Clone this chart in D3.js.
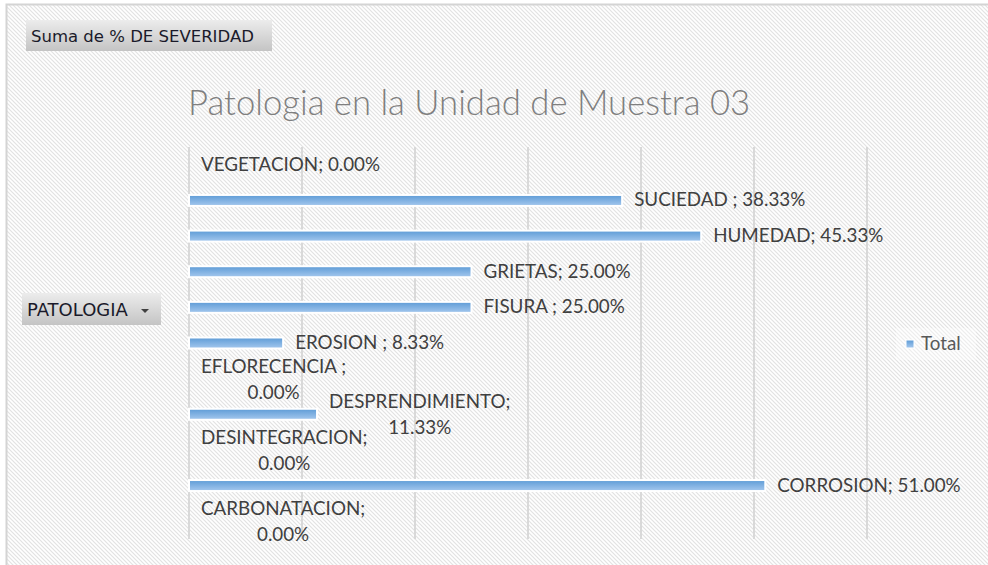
<!DOCTYPE html>
<html>
<head>
<meta charset="utf-8">
<script src="https://cdn.jsdelivr.net/npm/d3@7"></script>
<style>
  body { margin: 0; background: #fff; }
  svg { display: block; }
</style>
</head>
<body>
<script>
// data, bottom to top as in the chart
let categories = ['CARBONATACION', 'CORROSION', 'DESINTEGRACION', 'DESPRENDIMIENTO',
  'EFLORECENCIA ', 'EROSION ', 'FISURA ', 'GRIETAS', 'HUMEDAD', 'SUCIEDAD ', 'VEGETACION'];
let values = [0, 51.00, 0, 11.33, 0, 8.33, 25.00, 25.00, 45.33, 38.33, 0];
let xTicks = [0, 10, 20, 30, 40, 50, 60];
let seriesName = 'Total';
let chartTitle = 'Patologia en la Unidad de Muestra 03';
let fieldButton = 'Suma de % DE SEVERIDAD';
let axisButton = 'PATOLOGIA';

let data = categories.map((c, i) => ({ name: c, value: values[i] }));

let width = 988, height = 565;
let svg = d3.select('body').append('svg')
  .attr('width', width)
  .attr('height', height);

let defs = svg.append('defs');

// diagonal hatch background
let pat = defs.append('pattern')
  .attr('id', 'hatch')
  .attr('patternUnits', 'userSpaceOnUse')
  .attr('width', 4)
  .attr('height', 4);
pat.append('rect').attr('width', 4).attr('height', 4).attr('fill', '#ffffff');
pat.append('path')
  .attr('d', 'M-1,-1 L5,5 M-1,3 L1,5 M3,-1 L5,1')
  .attr('stroke', '#e2e2e2')
  .attr('stroke-width', 1.2);

let barGrad = defs.append('linearGradient')
  .attr('id', 'barGrad')
  .attr('x1', 0).attr('y1', 0).attr('x2', 0).attr('y2', 1);
barGrad.append('stop').attr('offset', '0%').attr('stop-color', '#5d9bd6');
barGrad.append('stop').attr('offset', '100%').attr('stop-color', '#a5c8ee');

let btnGrad = defs.append('linearGradient')
  .attr('id', 'btnGrad')
  .attr('x1', 0).attr('y1', 0).attr('x2', 0).attr('y2', 1);
btnGrad.append('stop').attr('offset', '0%').attr('stop-color', '#ececec');
btnGrad.append('stop').attr('offset', '100%').attr('stop-color', '#c4c4c4');

// chart area with border
svg.append('rect')
  .attr('x', 6.5).attr('y', 4.5)
  .attr('width', 1000).attr('height', 600)
  .attr('fill', 'url(#hatch)')
  .attr('stroke', '#d4d4d4')
  .attr('stroke-width', 2);

let x = d3.scaleLinear()
  .domain([0, 60])
  .range([189, 867]);

let y = d3.scaleBand()
  .domain(categories.slice().reverse())
  .range([147, 539])
  .paddingInner(0)
  .paddingOuter(0);

// gridlines
svg.append('g')
  .selectAll('line')
  .data(xTicks)
  .enter()
  .append('line')
  .attr('x1', d => x(d))
  .attr('x2', d => x(d))
  .attr('y1', 147)
  .attr('y2', 539)
  .attr('stroke', '#d9d9d9')
  .attr('stroke-width', 2);

// title
svg.append('text')
  .attr('x', 188)
  .attr('y', 115)
  .text(chartTitle)
  .attr('font-family', 'Lato, sans-serif')
  .attr('font-weight', 300)
  .attr('font-size', '34.7px')
  .attr('fill', '#7f7f7f');

// bars
let barH = 11;
svg.append('g')
  .selectAll('rect')
  .data(data.filter(d => d.value > 0))
  .enter()
  .append('rect')
  .attr('x', x(0))
  .attr('y', d => y(d.name) + y.bandwidth() / 2 - barH / 2)
  .attr('width', d => x(d.value) - x(0))
  .attr('height', barH)
  .attr('fill', 'url(#barGrad)')
  .attr('stroke', '#ffffff')
  .attr('stroke-width', 2);

// data labels
let fmt = d3.format('.2f');
let labelFont = 'Lato, sans-serif';
let labelSize = '18.8px';
let labels = svg.append('g');
data.forEach(d => {
  let first = d.name + ';';
  let second = fmt(d.value) + '%';
  let lx = x(d.value) + 12;
  let cy = y(d.name) + y.bandwidth() / 2;
  let t = labels.append('text')
    .attr('x', lx)
    .attr('y', cy + 6)
    .attr('font-family', labelFont)
    .attr('font-size', labelSize)
    .attr('fill', '#404040')
    .text(first + ' ' + second);
  if (t.node().getComputedTextLength() > 192) {
    t.remove();
    let t1 = labels.append('text')
      .attr('font-family', labelFont)
      .attr('font-size', labelSize)
      .attr('fill', '#404040')
      .attr('text-anchor', 'middle')
      .text(first);
    let w = t1.node().getComputedTextLength();
    t1.attr('x', lx + w / 2).attr('y', cy - 6);
    labels.append('text')
      .attr('x', lx + w / 2)
      .attr('y', cy + 20)
      .attr('font-family', labelFont)
      .attr('font-size', labelSize)
      .attr('fill', '#404040')
      .attr('text-anchor', 'middle')
      .text(second);
  }
});

// legend
let legend = svg.append('g');
legend.append('rect')
  .attr('x', 896).attr('y', 328)
  .attr('width', 80).attr('height', 32)
  .attr('fill', '#ffffff')
  .attr('fill-opacity', 0.35);
legend.append('rect')
  .attr('x', 906).attr('y', 340)
  .attr('width', 8).attr('height', 8)
  .attr('fill', 'url(#barGrad)')
  .attr('stroke', '#ffffff')
  .attr('stroke-width', 1);
legend.append('text')
  .attr('x', 921).attr('y', 350)
  .text(seriesName)
  .attr('font-family', labelFont)
  .attr('font-size', labelSize)
  .attr('fill', '#595959');

// pivot field buttons
svg.append('rect')
  .attr('x', 26).attr('y', 20)
  .attr('width', 246).attr('height', 31)
  .attr('fill', 'url(#btnGrad)');
svg.append('text')
  .attr('x', 31).attr('y', 42)
  .text(fieldButton)
  .attr('font-family', 'DejaVu Sans, sans-serif')
  .attr('font-size', '16.5px')
  .attr('fill', '#1a1a2a');

svg.append('rect')
  .attr('x', 22).attr('y', 293)
  .attr('width', 139).attr('height', 32)
  .attr('fill', 'url(#btnGrad)');
svg.append('text')
  .attr('x', 27).attr('y', 316)
  .text(axisButton)
  .attr('font-family', 'DejaVu Sans, sans-serif')
  .attr('font-size', '18px')
  .attr('fill', '#1a1a2a');
svg.append('path')
  .attr('d', 'M141,309 L149,309 L145,313 Z')
  .attr('fill', '#404040');
</script>
</body>
</html>
